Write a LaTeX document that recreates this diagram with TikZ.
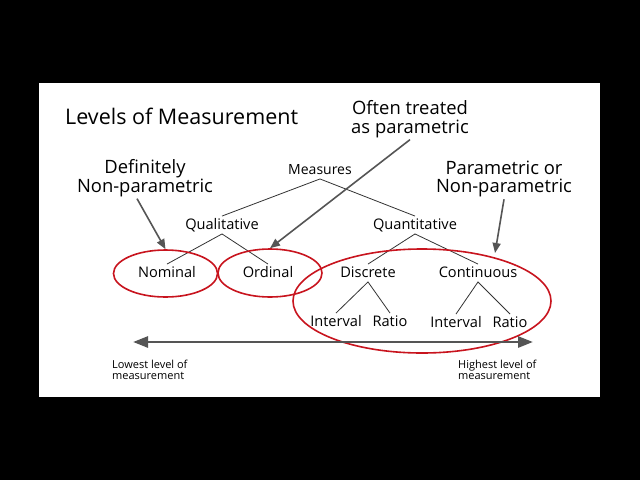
\documentclass[tikz,border=0pt]{standalone}
\usepackage{fontspec}
\setmainfont{Open Sans}
\usetikzlibrary{shapes.geometric,arrows.meta,calc}
\definecolor{ered}{HTML}{C8141E}
\definecolor{agray}{HTML}{555555}
\definecolor{tgray}{HTML}{333333}
\tikzset{
  fs/.style={font=\fontsize{#1}{#1}\selectfont},
  treelbl/.style={fs=14.6, text height=0.94em, text depth=0.01em, inner sep=4pt},
  annot/.style={fs=18.4, align=center, inner sep=2pt},
  treeln/.style={draw=tgray, line width=0.8pt},
  pointer/.style={draw=agray, line width=1.6pt, -{Triangle[length=10pt,width=8pt]}},
  redell/.style={draw=ered, ellipse, line width=1.6pt, inner sep=0pt},
  small/.style={fs=11, align=left, inner sep=0pt}
}
\begin{document}
\begin{tikzpicture}[x=1pt,y=-1pt]
\fill[black] (0,0) rectangle (640,480);
\useasboundingbox (0,0) rectangle (640,480);
\fill[white] (39,83) rectangle (600,397);

% title and annotations
\node[fs=21.5, anchor=west, inner sep=0pt] (title) at (65,116) {Levels of Measurement};
\node[annot] (often) at (410,119) {Often treated\\as parametric};
\node[annot] (def) at (145,178) {Definitely\\Non-parametric};
\node[annot] (param) at (504,179) {Parametric or\\Non-parametric};

% tree
\node[treelbl, fs=14] (meas) at (320,170) {Measures};
\node[treelbl] (qual) at (222,225) {Qualitative};
\node[treelbl] (quant) at (415,225) {Quantitative};
\node[treelbl] (nom) at (167,273) {Nominal};
\node[treelbl] (ord) at (268,273) {Ordinal};
\node[treelbl] (disc) at (368,273) {Discrete};
\node[treelbl] (cont) at (478,273) {Continuous};
\node[treelbl] (int1) at (336,322) {Interval};
\node[treelbl] (rat1) at (390,322) {Ratio};
\node[treelbl] (int2) at (456,323) {Interval};
\node[treelbl] (rat2) at (510,323) {Ratio};

\draw[treeln] (qual.north) -- (meas.south) -- (quant.north);
\draw[treeln] (nom.north) -- (qual.south) -- (ord.north);
\draw[treeln] (disc.north) -- (quant.south) -- (cont.north);
\draw[treeln] (int1.north) -- (disc.south) -- (rat1.north);
\draw[treeln] (int2.north) -- (cont.south) -- (rat2.north);

% red ellipses
\node[redell, minimum width=104pt, minimum height=47pt] (enom) at (165.5,273.5) {};
\node[redell, minimum width=104pt, minimum height=48pt] (eord) at (270,273) {};
\node[redell, minimum width=258pt, minimum height=104pt] (ebig) at (422,301) {};

% pointers
\coordinate (ptip) at (495,253);
\draw[pointer] ($(def.south)+(-8,0)$) -- (enom.north);
\draw[pointer] (often.south) -- (eord.north);
\draw[pointer] (param.south) -- (ptip);

% scale arrow
\coordinate (al) at (133,342);
\coordinate (ar) at (533,342);
\draw[draw=agray, line width=2.6pt, {Triangle[length=15pt,width=11pt]}-{Triangle[length=15pt,width=11pt]}] (al) -- (ar);
\node[small, anchor=west] (low) at (112,370) {Lowest level of\\measurement};
\node[small, anchor=west] (high) at (458,370) {Highest level of\\measurement};
\end{tikzpicture}
\end{document}
